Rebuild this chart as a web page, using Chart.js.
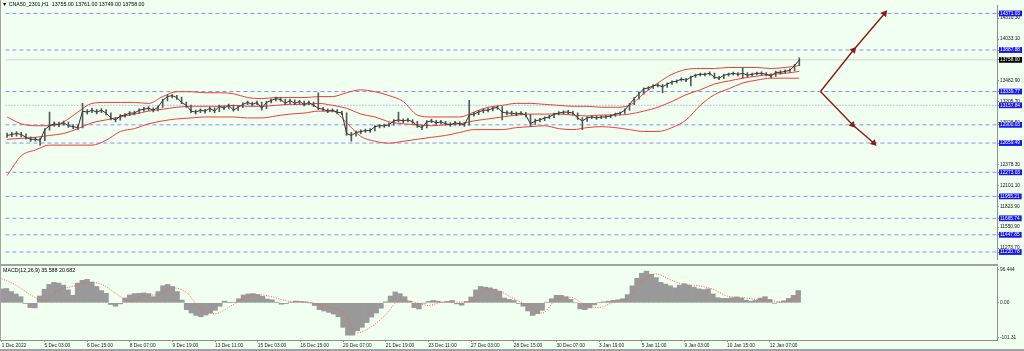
<!DOCTYPE html>
<html>
<head>
<meta charset="utf-8">
<script src="https://cdn.jsdelivr.net/npm/chart.js@4.4.1/dist/chart.umd.min.js"></script>
<style>
  html, body { margin: 0; padding: 0; background: #f0fff0; }
  #wrap { position: relative; width: 1024px; height: 351px; overflow: hidden; background: #f0fff0; }
  canvas { position: absolute; left: 0; }
  #main { top: 0; }
  #macd { top: 265px; }
  .txt { position: absolute; font: 5.3px "Liberation Sans", Arial, sans-serif; color: #000; white-space: pre; z-index: 3; }
  .rule { position: absolute; background: #a2a2a2; z-index: 2; }
</style>
</head>
<body>
<div id="wrap">
  <canvas id="main" width="1024" height="265"></canvas>
  <canvas id="macd" width="1024" height="86"></canvas>
  <div class="rule" style="left:0;top:264px;width:998px;height:2px"></div>
  <div class="rule" style="left:0;top:0;width:1px;height:341px"></div>
  <div class="rule" style="left:0;top:349px;width:1024px;height:2px"></div>
  <div class="txt" style="left:2px;top:1px">▼ CNA50_2301,H1  13755.00 13761.00 13749.00 13758.00</div>
  <div class="txt" style="left:3px;top:267px">MACD(12,26,9) 35.588 20.682</div>
</div>
<script>
// H1 bars, one value per ~4.7px step of the original chart
const closes = [
  12760, 12773, 12786, 12773, 12735, 12709, 12709, 12696, 12837, 12888,
  12914, 12901, 12927, 12888, 12876, 12863, 13081, 13068, 13093, 13068,
  13093, 13055, 12991, 12965, 13017, 13029, 13055, 13055, 13093, 13106,
  13119, 13093, 13132, 13222, 13273, 13286, 13260, 13196, 13157, 13081,
  13068, 13093, 13081, 13119, 13081, 13145, 13119, 13157, 13093, 13132,
  13170, 13196, 13170, 13196, 13119, 13196, 13222, 13247, 13234, 13183,
  13222, 13183, 13209, 13170, 13196, 13157, 13119, 13106, 13081, 13093,
  13068, 13055, 12786, 12760, 12799, 12812, 12824, 12824, 12876, 12888,
  12888, 12901, 12952, 12965, 12952, 12965, 12940, 12888, 12863, 12940,
  12952, 12927, 12940, 12914, 12901, 12927, 12914, 12901, 13029, 13042,
  13068, 13093, 13093, 13119, 13132, 13068, 13055, 13055, 13042, 13055,
  13029, 12914, 12952, 12965, 12991, 13004, 13042, 13055, 13068, 13068,
  13055, 12991, 12952, 12991, 13004, 12991, 13004, 13004, 13017, 13042,
  13055, 13093, 13170, 13247, 13311, 13375, 13388, 13414, 13426, 13401,
  13439, 13465, 13478, 13503, 13490, 13529, 13555, 13567, 13567, 13580,
  13529, 13516, 13555, 13567, 13580, 13567, 13580, 13555, 13567, 13580,
  13580, 13567, 13542, 13593, 13593, 13606, 13619, 13683, 13758
];
const highs = [
  12790, 12800, 12810, 12800, 12780, 12740, 12735, 12725, 12850, 13068,
  12940, 12935, 12950, 12935, 12905, 12890, 13183, 13100, 13120, 13105,
  13115, 13100, 13060, 12995, 13035, 13050, 13075, 13080, 13110, 13130,
  13140, 13125, 13150, 13240, 13295, 13300, 13290, 13265, 13200, 13160,
  13095, 13110, 13105, 13135, 13125, 13160, 13150, 13175, 13160, 13150,
  13190, 13215, 13200, 13215, 13200, 13210, 13240, 13265, 13260, 13240,
  13240, 13230, 13225, 13215, 13215, 13200, 13324, 13130, 13110, 13110,
  13100, 13080, 13060, 12800, 12820, 12835, 12845, 12850, 12890, 12905,
  12910, 12925, 12970, 13068, 12980, 12985, 12970, 12945, 12895, 12955,
  12975, 12960, 12960, 12945, 12930, 12945, 12940, 12930, 13222, 13065,
  13090, 13110, 13120, 13135, 13150, 13140, 13085, 13080, 13070, 13075,
  13065, 13040, 12975, 12985, 13005, 13025, 13055, 13075, 13085, 13090,
  13080, 13060, 12995, 13010, 13020, 13015, 13020, 13025, 13035, 13055,
  13070, 13110, 13185, 13260, 13330, 13390, 13405, 13430, 13445, 13435,
  13455, 13480, 13495, 13520, 13515, 13545, 13570, 13585, 13585, 13600,
  13585, 13540, 13570, 13585, 13595, 13590, 13657, 13590, 13585, 13595,
  13600, 13590, 13575, 13610, 13615, 13625, 13640, 13700, 13785
];
const lows = [
  12735, 12745, 12750, 12740, 12710, 12680, 12685, 12632, 12690, 12830,
  12880, 12875, 12895, 12865, 12850, 12835, 12860, 13040, 13060, 13045,
  13060, 13030, 12965, 12940, 12960, 13000, 13020, 13030, 13050, 13080,
  13090, 13070, 13085, 13130, 13215, 13255, 13235, 13180, 13130, 13060,
  13040, 13060, 13055, 13075, 13060, 13075, 13100, 13110, 13080, 13090,
  13125, 13165, 13150, 13165, 13093, 13115, 13190, 13215, 13210, 13165,
  13180, 13165, 13180, 13150, 13165, 13140, 13100, 13085, 13060, 13070,
  13045, 13035, 12760, 12683, 12750, 12785, 12800, 12800, 12820, 12860,
  12865, 12875, 12895, 12940, 12930, 12940, 12920, 12865, 12837, 12860,
  12930, 12905, 12915, 12895, 12880, 12895, 12890, 12880, 12895, 13015,
  13035, 13060, 13070, 13085, 13105, 12965, 13030, 13030, 13020, 13030,
  13005, 12876, 12905, 12940, 12955, 12980, 12995, 13030, 13045, 13045,
  13030, 12970, 12837, 12945, 12980, 12970, 12980, 12985, 12995, 13010,
  13030, 13050, 13090, 13165, 13240, 13305, 13360, 13380, 13400, 13324,
  13395, 13435, 13455, 13475, 13470, 13414, 13525, 13545, 13545, 13555,
  13510, 13495, 13510, 13545, 13555, 13545, 13516, 13535, 13545, 13560,
  13560, 13545, 13520, 13540, 13570, 13585, 13595, 13615, 13680
];

// Bollinger bands (20), sampled every 3 bars
const bandX = [
  0, 3, 6, 9, 12, 15, 18, 21, 24, 27, 30, 33, 36, 39, 42, 45, 48, 51, 54, 57,
  60, 63, 66, 69, 72, 75, 78, 81, 84, 87, 90, 93, 96, 99, 102, 105, 108, 111, 114, 117,
  120, 123, 126, 129, 132, 135, 138, 141, 144, 147, 150, 153, 156, 159, 162, 165, 168
];
const bbUpper = [
  13004, 12914, 12888, 12888, 12940, 13068, 13183, 13196, 13196, 13196,
  13183, 13273, 13337, 13337, 13324, 13324, 13311, 13260, 13247, 13260,
  13260, 13260, 13273, 13273, 13324, 13362, 13337, 13286, 13209, 13029,
  13004, 13004, 13004, 13068, 13132, 13157, 13183, 13183, 13170, 13157,
  13145, 13145, 13132, 13132, 13157, 13311, 13452, 13567, 13631, 13644,
  13644, 13657, 13657, 13657, 13644, 13657, 13683
];
const bbMiddle = [
  12709, 12722, 12735, 12760, 12786, 12850, 12927, 12965, 13004, 13042,
  13081, 13106, 13132, 13145, 13145, 13145, 13157, 13145, 13145, 13157,
  13170, 13170, 13183, 13157, 13119, 13042, 13004, 12940, 12914, 12901,
  12888, 12901, 12914, 12952, 12978, 13004, 13029, 13042, 13042, 13042,
  13029, 13017, 13029, 13029, 13042, 13081, 13132, 13209, 13298, 13362,
  13439, 13478, 13516, 13542, 13567, 13580, 13606
];
const bbLower = [
  12230, 12491, 12568, 12632, 12632, 12632, 12632, 12696, 12812, 12850,
  12914, 12952, 12978, 12991, 13004, 13004, 13004, 12991, 12991, 13017,
  13042, 13055, 13081, 13081, 12927, 12748, 12683, 12658, 12683, 12709,
  12735, 12760, 12799, 12837, 12837, 12837, 12863, 12876, 12888, 12850,
  12837, 12863, 12876, 12863, 12837, 12812, 12812, 12863, 12965, 13157,
  13298, 13375, 13452, 13490, 13516, 13516, 13516
];

// MACD(12,26,9): main line drawn as histogram, signal as dotted line
const macdHist = [
  41, 42, 33, 26, 18, -2, -14, -15, 20, 40,
  54, 60, 58, 52, 38, 22, 58, 66, 69, 61,
  48, 36, 28, -5, -10, -3, 14, 23, 27, 28,
  29, 27, 18, 33, 50, 54, 48, 33, 8, -20,
  -30, -37, -41, -36, -30, -22, -10, 5, 1, 2,
  12, 23, 26, 27, 24, 19, 11, 9, 2, -4,
  -2, 2, 5, 4, 3, 0, -8, -20, -24, -28,
  -33, -41, -72, -95, -95, -82, -72, -58, -42, -30,
  -16, 3, 20, 32, 27, 18, 5, -14, -18, -1,
  4, 7, 5, 2, 4, 7, -3, -7, 4, 17,
  38, 48, 46, 44, 40, 34, 14, 10, 7, -2,
  -10, -24, -37, -32, -22, 2, 12, 22, 22, 18,
  10, 0, -18, -20, -15, -6, 0, 3, 5, 7,
  9, 12, 24, 50, 72, 87, 93, 84, 74, 60,
  55, 50, 44, 52, 56, 52, 46, 41, 39, 41,
  26, 15, 13, 13, 15, 17, 14, 8, 5, 7,
  14, 18, 10, -1, 2, 6, 13, 22, 36
];
const macdSignal = [
  71, 52, 24, 6, 38, 48, 60, 55, 28, 5,
  22, 24, 44, 30, -20, -32, -12, 12, 24, 18,
  6, 3, -2, -12, -28, -88, -70, -35, 8, 2,
  -8, 2, 2, 3, 40, 34, 12, -8, -30, 10,
  16, -6, -14, 2, 14, 62, 85, 68, 54, 50,
  40, 20, 16, 10, 6, 3, 21
];

// axes
const xTickPos = [0, 9, 18, 27, 36, 45, 54, 63, 72, 81, 90, 99, 108, 117, 126, 135, 144, 153, 162];
const xTickLabels = [
  '1 Dec 2022', '5 Dec 03:00', '6 Dec 15:00', '8 Dec 07:00', '9 Dec 19:00', '13 Dec 11:00',
  '15 Dec 03:00', '16 Dec 15:00', '20 Dec 07:00', '21 Dec 19:00', '23 Dec 11:00', '27 Dec 03:00',
  '28 Dec 15:00', '30 Dec 07:00', '3 Jan 19:00', '5 Jan 11:00', '9 Jan 03:00', '10 Jan 15:00', '12 Jan 07:00'
];
const priceTicks = [14310.30, 14033.10, 13482.90, 13205.70, 12928.50, 12378.30, 12101.10, 11823.90, 11550.90, 11273.70];
const levelPrices = [14371.03, 13887.88, 13339.77, 12900.03, 12659.49, 12273.03, 11955.21, 11665.74, 11447.85, 11220.78];
const dottedLevel = 13157.84;
const lastPrice = 13758.00;
const macdTicks = [96.444, 0, -101.31];
const macdTickLabels = ['96.444', '0.00', '-101.31'];

// projection arrows
const arrowUpX = [172.5, 179.5, 186.1];
const arrowUpY = [13339.77, 13887.88, 14371.03];
const arrowDownX = [172.5, 179.3, 183.8];
const arrowDownY = [13339.77, 12900.03, 12659.49];

const X_MIN = -0.36, X_MAX = 209.93;
const FONT = { family: '"Liberation Sans", Arial, sans-serif', size: 4.8 };
const BLUE = '#1717ee';

const xy = (xs, ys) => xs.map((x, i) => ({ x: x, y: ys[i] }));
const hline = (v) => [{ x: X_MIN, y: v }, { x: X_MAX, y: v }];
const fixWidth = (s) => { s.width = 27; s.paddingTop = 0; s.paddingBottom = 0; };

const levelSets = levelPrices.map(v => ({
  type: 'line', data: hline(v), borderColor: '#8890f2', borderWidth: 1,
  borderDash: [4, 3], pointRadius: 0, order: 9
}));

const mainChart = new Chart(document.getElementById('main'), {
  type: 'line',
  data: {
    datasets: [
      ...levelSets,
      { data: hline(dottedLevel), borderColor: '#8890f2', borderWidth: 1, borderDash: [1, 2], pointRadius: 0, order: 9 },
      { data: hline(lastPrice), borderColor: '#cfd6cf', borderWidth: 1, pointRadius: 0, order: 9 },
      { data: xy(bandX, bbUpper), borderColor: '#f23c3c', borderWidth: 1, pointRadius: 0, cubicInterpolationMode: 'monotone', order: 5 },
      { data: xy(bandX, bbMiddle), borderColor: '#f23c3c', borderWidth: 1, pointRadius: 0, cubicInterpolationMode: 'monotone', order: 5 },
      { data: xy(bandX, bbLower), borderColor: '#f23c3c', borderWidth: 1, pointRadius: 0, cubicInterpolationMode: 'monotone', order: 5 },
      {
        type: 'bar', data: closes.map((c, i) => ({ x: i, y: [lows[i], highs[i]] })),
        backgroundColor: '#5a5a5a', barThickness: 1, grouped: false, order: 3
      },
      { data: xy(closes.map((c, i) => i), closes), borderColor: '#333', borderWidth: 1, pointRadius: 0, order: 2 },
      {
        data: xy(arrowUpX, arrowUpY), borderColor: '#8b1a1a', borderWidth: 1.4,
        pointStyle: 'triangle', pointRadius: [0, 2.6, 2.6], pointRotation: 39,
        pointBackgroundColor: '#8b1a1a', pointBorderColor: '#8b1a1a', order: 1
      },
      {
        data: xy(arrowDownX, arrowDownY), borderColor: '#8b1a1a', borderWidth: 1.4,
        pointStyle: 'triangle', pointRadius: [0, 2.6, 2.6], pointRotation: 135,
        pointBackgroundColor: '#8b1a1a', pointBorderColor: '#8b1a1a', order: 1
      }
    ]
  },
  options: {
    responsive: false, animation: false, devicePixelRatio: 1,
    layout: { padding: { top: 2, bottom: 1, left: 0, right: 0 } },
    plugins: { legend: { display: false }, tooltip: { enabled: false } },
    scales: {
      x: { type: 'linear', display: false, min: X_MIN, max: X_MAX, offset: false },
      y: {
        position: 'right', min: 11120.6, max: 14477,
        afterBuildTicks: s => {
          s.ticks = [...priceTicks, ...levelPrices, dottedLevel, lastPrice].map(v => ({ value: v }));
        },
        afterFit: fixWidth,
        border: { display: true, color: '#8f8f8f', width: 1 },
        grid: { drawOnChartArea: false, tickLength: 2, color: '#8f8f8f' },
        ticks: {
          autoSkip: false, padding: 1, font: FONT,
          callback: v => v.toFixed(2),
          color: ctx => priceTicks.includes(ctx.tick.value) ? '#111' : '#fff',
          showLabelBackdrop: ctx => !priceTicks.includes(ctx.tick.value),
          backdropColor: ctx => ctx.tick.value === lastPrice ? '#000' : BLUE,
          backdropPadding: { left: 1, right: 2, top: 0, bottom: 0 }
        }
      }
    }
  }
});

const macdChart = new Chart(document.getElementById('macd'), {
  type: 'bar',
  data: {
    datasets: [
      {
        type: 'line', data: xy(bandX, macdSignal), borderColor: '#ff5a5a', borderWidth: 1,
        borderDash: [1, 1.5], pointRadius: 0, cubicInterpolationMode: 'monotone', order: 1
      },
      {
        data: macdHist.map((v, i) => ({ x: i, y: v })), backgroundColor: '#999999',
        barPercentage: 1, categoryPercentage: 1, order: 2
      }
    ]
  },
  options: {
    responsive: false, animation: false, devicePixelRatio: 1,
    layout: { padding: { top: 2, bottom: 0, left: 0, right: 0 } },
    plugins: { legend: { display: false }, tooltip: { enabled: false } },
    scales: {
      x: {
        type: 'linear', min: X_MIN, max: X_MAX, offset: false,
        afterBuildTicks: s => { s.ticks = xTickPos.map(v => ({ value: v })); },
        afterFit: s => { s.height = 11; },
        border: { display: true, color: '#8f8f8f', width: 1 },
        grid: { drawOnChartArea: false, tickLength: 2, color: '#8f8f8f', offset: false },
        ticks: {
          autoSkip: false, maxRotation: 0, align: 'start', padding: 1, font: FONT, color: '#222',
          callback: (v, i) => xTickLabels[i]
        }
      },
      y: {
        position: 'right', min: -109.2, max: 105.2,
        afterBuildTicks: s => { s.ticks = macdTicks.map(v => ({ value: v })); },
        afterFit: fixWidth,
        border: { display: true, color: '#8f8f8f', width: 1 },
        grid: { drawOnChartArea: false, tickLength: 2, color: '#8f8f8f' },
        ticks: {
          autoSkip: false, padding: 1, font: FONT, color: '#222',
          callback: (v, i) => macdTickLabels[i]
        }
      }
    }
  }
});
</script>
</body>
</html>
